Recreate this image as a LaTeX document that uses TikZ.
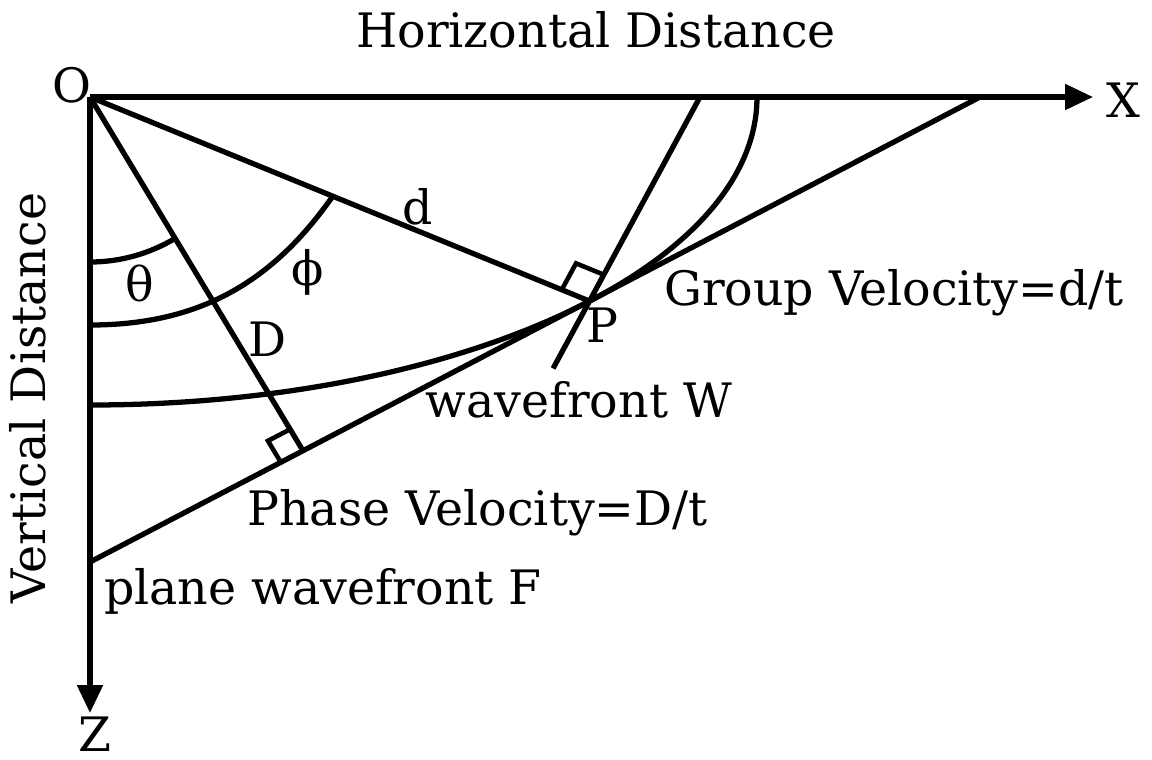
\documentclass[tikz,border=0pt]{standalone}
\usepackage{fontspec}
\setmainfont{DejaVu Serif}
\usetikzlibrary{arrows.meta,calc}

\begin{document}
\begin{tikzpicture}[line width=1.5pt, font=\fontsize{13.5}{16}\selectfont,
  axis/.style={-{Triangle[length=0.28cm,width=0.25cm]}},
  square/.style={line width=1.3pt}]
  \useasboundingbox (-0.90,0.97) rectangle (10.62,-6.62);
  % main points
  \coordinate (O) at (0,0);
  \coordinate (Xend) at (10.03,0);
  \coordinate (Zend) at (0,-6.16);
  \coordinate (P) at ({6.67*cos(-41.5)},{3.08*sin(-41.5)});
  \coordinate (Fz) at (0,-4.65);
  \coordinate (Fx) at (8.90,0);
  \coordinate (Dfoot) at (2.13,-3.537);
  \coordinate (Wtop) at (6.10,0);
  \coordinate (Wbot) at ($(P)!-0.33!(Wtop)$);
  \coordinate (phiend) at ($(O)!0.486!(P)$);
  % axes
  \draw[axis] (O) -- (Xend);
  \draw[axis] (O) -- (Zend);
  % rays and fronts
  \draw (O) -- (P);
  \draw (O) -- (Dfoot);
  \draw (Fz) -- (Fx);
  \draw (Wtop) -- (Wbot);
  \draw (0,-3.08) arc[start angle=270, end angle=360, x radius=6.67, y radius=3.08];
  % angles
  \draw (0,-1.65) arc[start angle=270, end angle=301, radius=1.65];
  \draw (0,-2.28) to[out=0, in=-125] (phiend);
  % right angle marks
  \coordinate (r1) at ($(Dfoot)!0.25cm!(Fz)$);
  \coordinate (r2) at ($(Dfoot)!0.25cm!(O)$);
  \draw[square] (r1) -- ($(r1)+(r2)-(Dfoot)$) -- (r2);
  \coordinate (q1) at ($(P)!0.30cm!(O)$);
  \coordinate (q2) at ($(P)!0.30cm!(Wtop)$);
  \draw[square] (q1) -- ($(q1)+(q2)-(P)$) -- (q2);
  % labels
  \node (lblO) at (-0.18,0.12) {O};
  \node (lblX) at (10.33,-0.03) {X};
  \node[anchor=base, inner sep=0pt] (lblZ) at (0.05,-6.545) {Z};
  \node[anchor=base] (hdist) at (5.06,0.50) {Horizontal Distance};
  \node[anchor=base, rotate=90] (vdist) at (-0.44,-3.01) {Vertical Distance};
  \node (lbld) at (3.28,-1.10) {d};
  \node (lbltheta) at (0.50,-1.86) {θ};
  \node (lblphi) at (2.18,-1.75) {ϕ};
  \node (lblD) at (1.78,-2.42) {D};
  \node (lblP) at (5.12,-2.28) {P};
  \node[anchor=base] (group) at (8.04,-2.08) {Group Velocity=d/t};
  \node[anchor=base] (wavew) at (4.89,-3.20) {wavefront W};
  \node[anchor=base] (phase) at (3.875,-4.28) {Phase Velocity=D/t};
  \node[anchor=base] (planef) at (2.33,-5.07) {plane wavefront F};
\end{tikzpicture}
\end{document}
